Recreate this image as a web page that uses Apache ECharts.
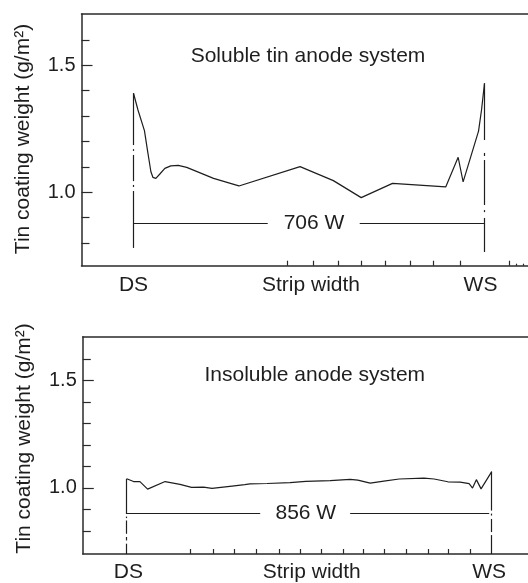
<!DOCTYPE html>
<html>
<head>
<meta charset="utf-8">
<script src="https://cdn.jsdelivr.net/npm/echarts@6/dist/echarts.min.js"></script>
<style>
html,body{margin:0;padding:0;background:#fff;}
#c{width:528px;height:583px;}
</style>
</head>
<body>
<div id="c"></div>
<script>
// ---------- data (strip position in mm from DS, coating weight g/m2) ----------
const topX = [0, 9, 22, 29, 35, 39, 41, 45, 53, 63, 75, 90, 107, 161, 212, 335, 402, 458, 521, 628, 653, 663, 694, 700, 706];
const topY = [1.390, 1.324, 1.243, 1.154, 1.081, 1.059, 1.052, 1.055, 1.072, 1.094, 1.104, 1.106, 1.098, 1.055, 1.025, 1.101, 1.046, 0.979, 1.035, 1.021, 1.138, 1.041, 1.241, 1.324, 1.429];

const botX = [0, 16, 31, 49, 90, 125, 152, 180, 200, 247, 277, 289, 329, 383, 420, 477, 524, 542, 571, 603, 639, 697, 721, 753, 782, 803, 811, 820, 831, 856];
const botY = [1.042, 1.029, 1.029, 0.994, 1.029, 1.016, 1.002, 1.003, 0.997, 1.008, 1.015, 1.018, 1.020, 1.024, 1.030, 1.033, 1.039, 1.036, 1.022, 1.031, 1.041, 1.045, 1.041, 1.028, 1.026, 1.019, 0.999, 1.038, 0.995, 1.075];

const xLabelText = ['DS', 'Strip width', 'WS'];
const topLabelPos = [0, 357, 698];
const botLabelPos = [4, 434, 850];
const topTicks = [310, 361, 412, 458, 506, 556, 603, 657, 756];
const topMiniTicks = [770, 784];
const botTicks = [149, 202, 252, 303, 357, 406, 456, 507, 555, 603, 655, 706, 753, 805];
const yLabelVals = [1.0, 1.5];
const yMinorVals = [0.8, 0.9, 1.1, 1.2, 1.3, 1.4, 1.6];

const topTitle = 'Soluble tin anode system';
const botTitle = 'Insoluble anode system';
const yTitle = 'Tin coating weight (g/m²)';
const topWidthLabel = '706 W';
const botWidthLabel = '856 W';

// annotation geometry (data units)
const topDSx = 0, topWSx = 706;
const topDSsegs = [[1.390, 1.186], [1.170, 1.163], [1.147, 1.044], [1.029, 1.021], [1.005, 0.781]];
const topWSsegs = [[1.429, 1.206], [1.155, 1.143], [1.127, 0.950], [0.930, 0.922], [0.899, 0.765]];
const topBracketY = 0.878;
const topBracketSegs = [[0, 270], [455, 706]];
const topWidthLabelPos = [363, 0.878];
const topTitlePos = [351, 1.537];

const botDSx = 0, botWSx = 856;
const botDSsegs = [[1.042, 0.878], [0.866, 0.859], [0.848, 0.786], [0.771, 0.755], [0.740, 0.692]];
const botWSsegs = [[1.075, 0.894], [0.880, 0.871], [0.855, 0.794], [0.780, 0.692]];
const botBracketY = 0.881;
const botBracketSegs = [[0, 313], [524, 850]];
const botWidthLabelPos = [420, 0.881];
const botTitlePos = [441, 1.525];

// ---------- chart ----------
const FONT = "'Liberation Sans', Arial, Helvetica, sans-serif";
const INK = '#1e1e1e';
const AXIS = '#2a2a2a';

function zip(xs, ys) { return xs.map((x, i) => [x, ys[i]]); }
function vSegs(x, segs) { return segs.map(s => [{coord: [x, s[0]]}, {coord: [x, s[1]]}]); }
function hSegs(y, segs) { return segs.map(s => [{coord: [s[0], y]}, {coord: [s[1], y]}]); }

function baseX(grid, min, max) {
  return {type: 'value', gridIndex: grid, min: min, max: max,
    splitLine: {show: false}, axisLine: {show: false, onZero: false},
    axisTick: {show: false}, axisLabel: {show: false}};
}
function baseY(grid, min, max) {
  return {type: 'value', gridIndex: grid, min: min, max: max, position: 'left',
    splitLine: {show: false}, axisLine: {show: false, onZero: false},
    axisTick: {show: false}, axisLabel: {show: false}};
}
function mainX(grid, min, max, ticks, labelPos, margin) {
  const a = baseX(grid, min, max);
  a.position = 'bottom';
  a.axisLine = {show: true, onZero: false, lineStyle: {color: AXIS, width: 1.5}};
  a.axisTick = {show: true, inside: true, length: 5, customValues: ticks, lineStyle: {color: AXIS, width: 1.2}};
  a.axisLabel = {show: true, customValues: labelPos, margin: margin,
    fontSize: 21, fontFamily: FONT, color: INK,
    formatter: function (v) {
      let best = 0, d = Infinity;
      labelPos.forEach((p, i) => { if (Math.abs(p - v) < d) { d = Math.abs(p - v); best = i; } });
      return xLabelText[best];
    }};
  return a;
}
function borderX(grid, min, max) {
  const a = baseX(grid, min, max);
  a.position = 'top';
  a.axisLine = {show: true, onZero: false, lineStyle: {color: AXIS, width: 1.5}};
  return a;
}
function miniX(grid, min, max, ticks) {
  const a = baseX(grid, min, max);
  a.position = 'bottom';
  a.axisTick = {show: true, inside: true, length: 2, customValues: ticks, lineStyle: {color: AXIS, width: 1.2}};
  return a;
}
function mainY(grid, min, max) {
  const a = baseY(grid, min, max);
  a.axisLine = {show: true, onZero: false, lineStyle: {color: AXIS, width: 1.5}};
  a.axisTick = {show: true, inside: true, length: 11, customValues: yLabelVals, lineStyle: {color: AXIS, width: 1.2}};
  a.axisLabel = {show: true, customValues: yLabelVals, margin: 6, fontSize: 20, fontFamily: FONT, color: INK,
    formatter: v => v.toFixed(1)};
  return a;
}
function minorY(grid, min, max) {
  const a = baseY(grid, min, max);
  a.axisTick = {show: true, inside: true, length: 8, customValues: yMinorVals, lineStyle: {color: AXIS, width: 1.2}};
  return a;
}

const TX = [-104.6, 793.5], TY = [0.711, 1.702];
const BX = [-103.0, 941.1], BY = [0.692, 1.703];

const markCommon = {
  silent: true, symbol: ['none', 'none'], animation: false,
  label: {show: false},
  lineStyle: {color: INK, width: 1.2, type: 'solid'},
  emphasis: {disabled: true}
};

const option = {
  animation: false,
  textStyle: {fontFamily: FONT},
  grid: [
    {left: 81.5, top: 14, right: 0, height: 251.7, containLabel: false},
    {left: 82.8, top: 336.7, right: 0, height: 218.8, containLabel: false}
  ],
  xAxis: [
    mainX(0, TX[0], TX[1], topTicks, topLabelPos, 9),
    borderX(0, TX[0], TX[1]),
    miniX(0, TX[0], TX[1], topMiniTicks),
    mainX(1, BX[0], BX[1], botTicks, botLabelPos, 8),
    borderX(1, BX[0], BX[1])
  ],
  yAxis: [
    mainY(0, TY[0], TY[1]),
    minorY(0, TY[0], TY[1]),
    mainY(1, BY[0], BY[1]),
    minorY(1, BY[0], BY[1])
  ],
  series: [
    {
      type: 'line', xAxisIndex: 0, yAxisIndex: 0, data: zip(topX, topY),
      symbol: 'none', showSymbol: false, silent: true, clip: false,
      lineStyle: {color: INK, width: 1.2},
      markLine: Object.assign({}, markCommon, {
        data: [].concat(vSegs(topDSx, topDSsegs), vSegs(topWSx, topWSsegs), hSegs(topBracketY, topBracketSegs))
      })
    },
    {
      type: 'line', xAxisIndex: 3, yAxisIndex: 2, data: zip(botX, botY),
      symbol: 'none', showSymbol: false, silent: true, clip: false,
      lineStyle: {color: INK, width: 1.2},
      markLine: Object.assign({}, markCommon, {
        data: [].concat(vSegs(botDSx, botDSsegs), vSegs(botWSx, botWSsegs), hSegs(botBracketY, botBracketSegs))
      })
    }
  ]
};

const chart = echarts.init(document.getElementById('c'), null, {renderer: 'canvas'});
chart.setOption(option);

function txt(pt, text, size) {
  return {type: 'text', x: pt[0], y: pt[1], silent: true,
    style: {text: text, fontSize: size, fontFamily: FONT, fill: INK, align: 'center', verticalAlign: 'middle'}};
}
const pTopTitle = chart.convertToPixel({xAxisIndex: 0, yAxisIndex: 0}, topTitlePos);
const pTopW = chart.convertToPixel({xAxisIndex: 0, yAxisIndex: 0}, topWidthLabelPos);
const pBotTitle = chart.convertToPixel({xAxisIndex: 3, yAxisIndex: 2}, botTitlePos);
const pBotW = chart.convertToPixel({xAxisIndex: 3, yAxisIndex: 2}, botWidthLabelPos);

const yt1 = txt([23, 139], yTitle, 21); yt1.rotation = Math.PI / 2;
const yt2 = txt([24.5, 438.5], yTitle, 21); yt2.rotation = Math.PI / 2;

chart.setOption({
  graphic: [
    txt(pTopTitle, topTitle, 21),
    txt(pTopW, topWidthLabel, 21),
    txt(pBotTitle, botTitle, 21),
    txt(pBotW, botWidthLabel, 21),
    yt1, yt2
  ]
});
</script>
</body>
</html>
